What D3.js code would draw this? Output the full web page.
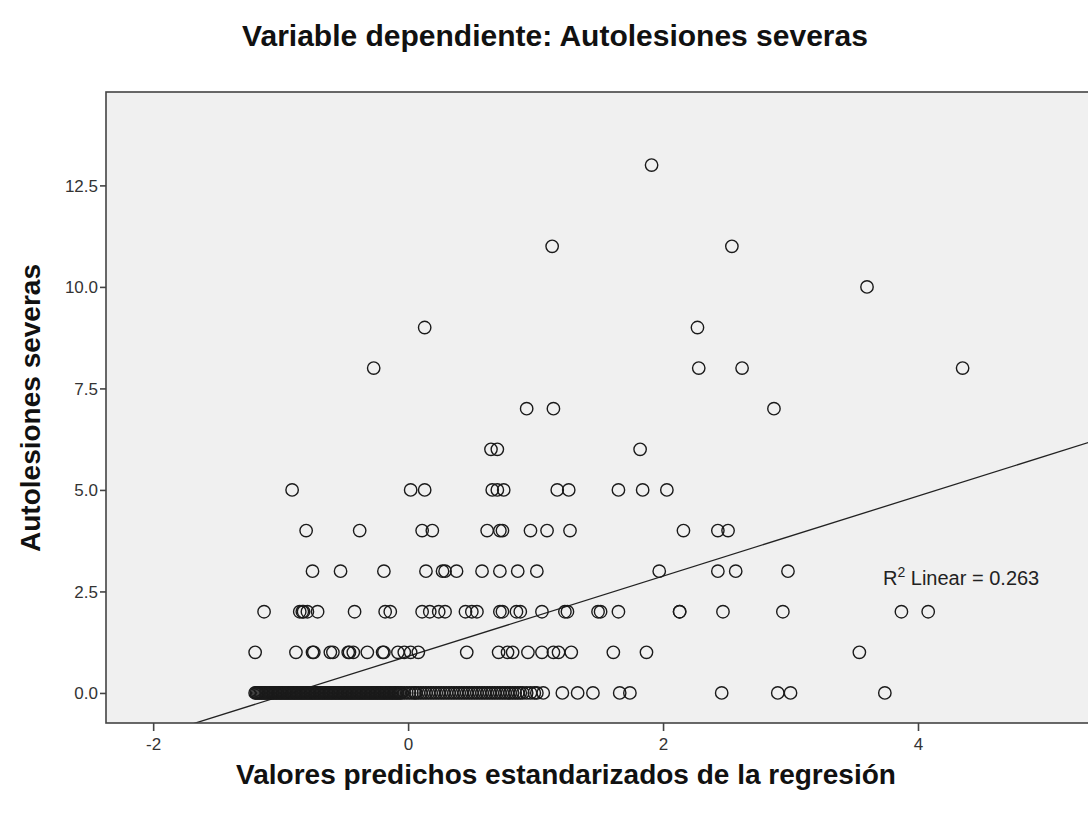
<!DOCTYPE html>
<html>
<head>
<meta charset="utf-8">
<script src="https://cdn.jsdelivr.net/npm/d3@7"></script>
<style>
  body { margin: 0; background: #fff; }
  svg { display: block; font-family: "Liberation Sans", Arial, sans-serif; }
</style>
</head>
<body>
<svg width="1088" height="815"></svg>
<script>
var svg = d3.select("svg");

// values read per level of the dependent variable (x = standardized predicted value)
var row0 = [-1.20, -1.19, -1.18, -1.17, -1.16, -1.15, -1.14, -1.13, -1.12, -1.11, -1.10, -1.09, -1.08, -1.07,
  -1.06, -1.05, -1.04, -1.03, -1.02, -1.01, -1.00, -0.99, -0.98, -0.97, -0.96, -0.95, -0.94, -0.93, -0.92,
  -0.91, -0.90, -0.89, -0.88, -0.87, -0.86, -0.85, -0.84, -0.83, -0.82, -0.81, -0.80, -0.79, -0.78, -0.77,
  -0.76, -0.75, -0.74, -0.73, -0.72, -0.71, -0.70, -0.69, -0.68, -0.67, -0.66, -0.65, -0.64, -0.63, -0.62,
  -0.61, -0.60, -0.59, -0.58, -0.57, -0.56, -0.55, -0.54, -0.53, -0.52, -0.51, -0.50, -0.49, -0.48, -0.47,
  -0.46, -0.45, -0.44, -0.43, -0.42, -0.41, -0.40, -0.39, -0.38, -0.37, -0.36, -0.35, -0.34, -0.33, -0.32,
  -0.31, -0.30, -0.29, -0.28, -0.27, -0.26, -0.25, -0.24, -0.23, -0.22, -0.21, -0.20, -0.19, -0.18, -0.17,
  -0.16, -0.15, -0.14, -0.13, -0.12, -0.11, -0.10, -0.09, -0.08, -0.07, -0.06, -0.05, -0.03, -0.01, 0.01,
  0.03, 0.05, 0.06, 0.08, 0.10, 0.12, 0.14, 0.16, 0.18, 0.20, 0.22, 0.24, 0.26, 0.28, 0.30, 0.32, 0.34,
  0.36, 0.38, 0.40, 0.42, 0.44, 0.46, 0.48, 0.50, 0.52, 0.54, 0.56, 0.58, 0.60, 0.62, 0.64, 0.66, 0.68,
  0.70, 0.72, 0.74, 0.76, 0.78, 0.80, 0.82, 0.84, 0.86, 0.88, 0.90, 0.93, 0.96, 0.99, 1.01, 1.06, 1.21,
  1.33, 1.45, 1.66, 1.74, 2.46, 2.90, 3.00, 3.74];
var row1 = [-1.20, -0.88, -0.75, -0.74, -0.61, -0.59, -0.47, -0.46, -0.43, -0.32, -0.20, -0.19, -0.08, -0.03,
  0.02, 0.08, 0.46, 0.71, 0.78, 0.82, 0.94, 1.05, 1.14, 1.18, 1.28, 1.61, 1.87, 3.54];
var row2 = [-1.13, -0.85, -0.83, -0.82, -0.79, -0.71, -0.42, -0.18, -0.14, 0.11, 0.17, 0.24, 0.29, 0.45, 0.50,
  0.54, 0.72, 0.74, 0.85, 0.88, 1.05, 1.23, 1.25, 1.49, 1.51, 1.65, 2.13, 2.13, 2.47, 2.94, 3.87, 4.08];
var row3 = [-0.75, -0.53, -0.19, 0.14, 0.27, 0.29, 0.38, 0.58, 0.72, 0.86, 1.01, 1.97, 2.43, 2.57, 2.98];
var row4 = [-0.80, -0.38, 0.11, 0.19, 0.62, 0.72, 0.74, 0.96, 1.09, 1.27, 2.16, 2.43, 2.51];
var row5 = [-0.91, 0.02, 0.13, 0.66, 0.70, 0.75, 1.17, 1.26, 1.65, 1.84, 2.03];
var row6 = [0.65, 0.70, 1.82];
var row7 = [0.93, 1.14, 2.87];
var row8 = [-0.27, 2.28, 2.62, 4.35];
var row9 = [0.13, 2.27];
var row10 = [3.60];
var row11 = [1.13, 2.54];
var row13 = [1.91];

var rows = [[0, row0], [1, row1], [2, row2], [3, row3], [4, row4], [5, row5], [6, row6],
  [7, row7], [8, row8], [9, row9], [10, row10], [11, row11], [13, row13]];

var xTicks = [-2, 0, 2, 4];
var yTicks = [0, 2.5, 5, 7.5, 10, 12.5];
var fitIntercept = 0.905;
var fitSlope = 0.986;
var r2Text = "0.263";

var points = [];
rows.forEach(function(r) {
  r[1].forEach(function(v) { points.push({x: v, y: r[0]}); });
});

var pLeft = 106, pRight = 1099, pTop = 92, pBottom = 723;
var x = d3.scaleLinear().domain([-2.37, 5.42]).range([pLeft, pRight]);
var y = d3.scaleLinear().domain([-0.74, 14.8]).range([pBottom, pTop]);

svg.append("rect").attr("x", pLeft).attr("y", pTop)
  .attr("width", pRight - pLeft).attr("height", pBottom - pTop)
  .attr("fill", "#f0f0f0");

svg.append("clipPath").attr("id", "plot")
  .append("rect").attr("x", pLeft).attr("y", pTop)
  .attr("width", pRight - pLeft).attr("height", pBottom - pTop);

// fit line
var xd = x.domain();
svg.append("line")
  .attr("clip-path", "url(#plot)")
  .attr("x1", x(xd[0])).attr("y1", y(fitIntercept + fitSlope * xd[0]))
  .attr("x2", x(xd[1])).attr("y2", y(fitIntercept + fitSlope * xd[1]))
  .attr("stroke", "#222").attr("stroke-width", 1.3);

svg.append("g").selectAll("circle").data(points).enter().append("circle")
  .attr("cx", d => x(d.x))
  .attr("cy", d => y(d.y))
  .attr("r", 6.2)
  .attr("fill", "none")
  .attr("stroke", "#1a1a1a")
  .attr("stroke-width", 1.4);

// axes
var xAxis = svg.append("g").attr("transform", "translate(0," + pBottom + ")")
  .call(d3.axisBottom(x).tickValues(xTicks).tickSize(8).tickSizeOuter(0).tickFormat(d => String(d)));
var yAxis = svg.append("g").attr("transform", "translate(" + pLeft + ",0)")
  .call(d3.axisLeft(y).tickValues(yTicks).tickSize(6).tickSizeOuter(0).tickFormat(d => d.toFixed(1)));

[xAxis, yAxis].forEach(function(a) {
  a.select(".domain").remove();
  a.selectAll("line").attr("stroke", "#444").attr("stroke-width", 1.6);
  a.selectAll("text").attr("fill", "#333").style("font-size", "17px")
    .style("font-family", "Liberation Sans, Arial, sans-serif");
});
xAxis.selectAll("text").attr("y", 12).attr("dy", "0.9em");
yAxis.selectAll("text").attr("x", -8).attr("dy", "0.35em");

// frame
svg.append("rect").attr("x", pLeft).attr("y", pTop)
  .attr("width", pRight - pLeft).attr("height", pBottom - pTop)
  .attr("fill", "none").attr("stroke", "#444").attr("stroke-width", 1.6);

// titles
svg.append("text").attr("x", 555).attr("y", 46).attr("text-anchor", "middle")
  .style("font-size", "30px").style("font-weight", "bold").attr("fill", "#111")
  .text("Variable dependiente: Autolesiones severas");

svg.append("text").attr("x", 566).attr("y", 784).attr("text-anchor", "middle")
  .style("font-size", "28px").style("font-weight", "bold").attr("fill", "#111")
  .text("Valores predichos estandarizados de la regresión");

svg.append("text").attr("transform", "translate(40,408) rotate(-90)").attr("text-anchor", "middle")
  .style("font-size", "28px").style("font-weight", "bold").attr("fill", "#111")
  .text("Autolesiones severas");

var r2 = svg.append("text").attr("x", 883).attr("y", 585)
  .style("font-size", "20px").attr("fill", "#222");
r2.append("tspan").text("R");
r2.append("tspan").attr("dy", -8).style("font-size", "14px").text("2");
r2.append("tspan").attr("dy", 8).text(" Linear = " + r2Text);
</script>
</body>
</html>
